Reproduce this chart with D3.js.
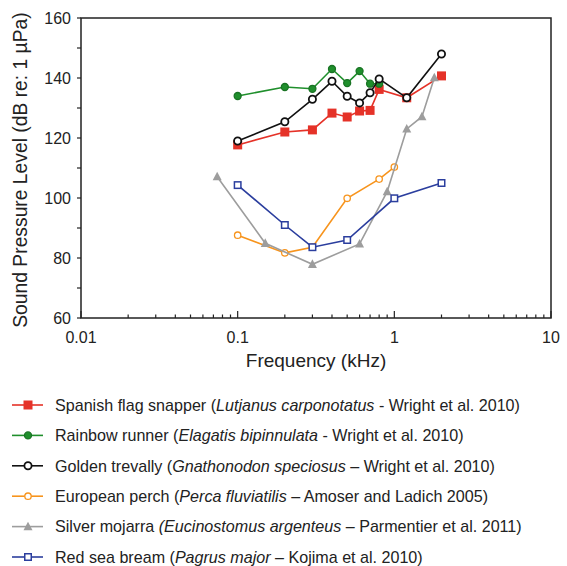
<!DOCTYPE html>
<html>
<head>
<meta charset="utf-8">
<script src="https://d3js.org/d3.v7.min.js"></script>
<style>
  body { margin: 0; background: #fff; }
  svg text { font-family: "Liberation Sans", Arial, sans-serif; fill: #222; }
</style>
</head>
<body>
<svg id="chart" width="567" height="566"></svg>
<script>
// hearing thresholds, frequency in kHz, level in dB re 1 uPa
var snapperFreq = [0.1, 0.2, 0.3, 0.4, 0.5, 0.6, 0.7, 0.8, 1.2, 2];
var snapperDb   = [117.7, 122, 122.7, 128.3, 127, 129, 129.2, 136.2, 133.4, 140.7];

var runnerFreq = [0.1, 0.2, 0.3, 0.4, 0.5, 0.6, 0.7, 0.8];
var runnerDb   = [134, 137, 136.4, 143, 138.3, 142.3, 138.1, 138.1];

var trevallyFreq = [0.1, 0.2, 0.3, 0.4, 0.5, 0.6, 0.7, 0.8, 1.2, 2];
var trevallyDb   = [119, 125.4, 132.9, 138.9, 133.9, 131.7, 135.1, 139.7, 133.4, 148];

var perchFreq = [0.1, 0.2, 0.3, 0.5, 0.8, 1];
var perchDb   = [87.6, 81.7, 83.6, 99.9, 106.3, 110.3];

var mojarraFreq = [0.074, 0.15, 0.3, 0.6, 0.9, 1.2, 1.5, 1.8];
var mojarraDb   = [107.1, 84.9, 77.9, 84.7, 102.1, 123, 127.1, 140.1];

var breamFreq = [0.1, 0.2, 0.3, 0.5, 1, 2];
var breamDb   = [104.3, 91, 83.6, 86, 99.9, 105];

var xTicks = [0.01, 0.1, 1, 10];
var xTickLabels = ["0.01", "0.1", "1", "10"];
var yTicks = [60, 80, 100, 120, 140, 160];

var series = [
  { freq: snapperFreq, db: snapperDb, color: "#e53228", marker: "square", filled: true,
    name: "Spanish flag snapper (", latin: "Lutjanus carponotatus", rest: " - Wright et al. 2010)" },
  { freq: runnerFreq, db: runnerDb, color: "#1f8f2c", marker: "circle", filled: true,
    name: "Rainbow runner (", latin: "Elagatis bipinnulata", rest: " - Wright et al. 2010)" },
  { freq: trevallyFreq, db: trevallyDb, color: "#111111", marker: "circle", filled: false,
    name: "Golden trevally (", latin: "Gnathonodon speciosus", rest: " \u2013 Wright et al. 2010)" },
  { freq: perchFreq, db: perchDb, color: "#f7941d", marker: "circle", filled: false,
    name: "European perch (", latin: "Perca fluviatilis", rest: " \u2013 Amoser and Ladich 2005)" },
  { freq: mojarraFreq, db: mojarraDb, color: "#9d9d9d", marker: "triangle", filled: true,
    name: "Silver mojarra ", latin: "(Eucinostomus argenteus", rest: " \u2013 Parmentier et al. 2011)" },
  { freq: breamFreq, db: breamDb, color: "#2b3e9e", marker: "square", filled: false,
    name: "Red sea bream (", latin: "Pagrus major", rest: " \u2013 Kojima et al. 2010)" }
];

var svg = d3.select("#chart");
var plotLeft = 81, plotRight = 551, plotTop = 18, plotBottom = 318;

var x = d3.scaleLog().domain([0.01, 10]).range([plotLeft, plotRight]);
var y = d3.scaleLinear().domain([60, 160]).range([plotBottom, plotTop]);

// frame
svg.append("rect")
  .attr("x", plotLeft).attr("y", plotTop)
  .attr("width", plotRight - plotLeft).attr("height", plotBottom - plotTop)
  .attr("fill", "none").attr("stroke", "#222").attr("stroke-width", 1.5);

// x ticks point inward
var minorX = [];
[0.01, 0.1, 1].forEach(function(d) {
  for (var k = 2; k <= 9; k++) minorX.push(d * k);
});
svg.selectAll(".xminor").data(minorX).enter().append("line")
  .attr("x1", function(d) { return x(d); }).attr("x2", function(d) { return x(d); })
  .attr("y1", plotBottom).attr("y2", plotBottom - 3.5)
  .attr("stroke", "#222").attr("stroke-width", 1.2);
svg.selectAll(".xmajor").data(xTicks).enter().append("line")
  .attr("x1", function(d) { return x(d); }).attr("x2", function(d) { return x(d); })
  .attr("y1", plotBottom).attr("y2", plotBottom - 7)
  .attr("stroke", "#222").attr("stroke-width", 1.2);
svg.selectAll(".xlab").data(xTicks).enter().append("text")
  .attr("x", function(d) { return x(d); }).attr("y", plotBottom + 25)
  .attr("text-anchor", "middle").attr("font-size", 16)
  .text(function(d, i) { return xTickLabels[i]; });

// y ticks point outward
var yMinor = d3.range(70, 160, 20);
svg.selectAll(".yminor").data(yMinor).enter().append("line")
  .attr("x1", plotLeft - 4).attr("x2", plotLeft)
  .attr("y1", function(d) { return y(d); }).attr("y2", function(d) { return y(d); })
  .attr("stroke", "#222").attr("stroke-width", 1.2);
svg.selectAll(".ymajor").data(yTicks).enter().append("line")
  .attr("x1", plotLeft - 4).attr("x2", plotLeft)
  .attr("y1", function(d) { return y(d); }).attr("y2", function(d) { return y(d); })
  .attr("stroke", "#222").attr("stroke-width", 1.2);
svg.selectAll(".ylab").data(yTicks).enter().append("text")
  .attr("x", plotLeft - 10).attr("y", function(d) { return y(d) + 5.5; })
  .attr("text-anchor", "end").attr("font-size", 16)
  .text(function(d) { return d; });

svg.append("text")
  .attr("x", 316).attr("y", 367)
  .attr("text-anchor", "middle").attr("font-size", 19)
  .text("Frequency (kHz)");

svg.append("text")
  .attr("transform", "translate(27,170) rotate(-90)")
  .attr("text-anchor", "middle").attr("font-size", 19.3)
  .text("Sound Pressure Level (dB re: 1 \u00b5Pa)");

function drawMarker(g, type, filled, color, cx, cy) {
  var fill = filled ? color : "#fff";
  var stroke = color;
  if (filled && type === "circle") stroke = d3.color(color).darker(0.6);
  if (type === "square") {
    var s = filled ? 9 : 6.5;
    g.append("rect").attr("x", cx - s / 2).attr("y", cy - s / 2)
      .attr("width", s).attr("height", s)
      .attr("fill", fill).attr("stroke", filled ? "none" : stroke).attr("stroke-width", 1.5);
  } else if (type === "circle") {
    var black = color === "#111111";
    g.append("circle").attr("cx", cx).attr("cy", cy)
      .attr("r", black ? 3.6 : (filled ? 3.5 : 3.2))
      .attr("fill", fill).attr("stroke", stroke)
      .attr("stroke-width", black ? 1.8 : 1.3);
  } else {
    var h = 9;
    g.append("path")
      .attr("d", "M" + cx + "," + (cy - h * 0.55) + "L" + (cx + h * 0.5) + "," + (cy + h * 0.4) +
        "L" + (cx - h * 0.5) + "," + (cy + h * 0.4) + "Z")
      .attr("fill", fill);
  }
}

var line = d3.line()
  .x(function(d) { return x(d[0]); })
  .y(function(d) { return y(d[1]); });

series.forEach(function(s) {
  var pts = s.freq.map(function(f, i) { return [f, s.db[i]]; });
  var g = svg.append("g");
  g.append("path").datum(pts).attr("d", line)
    .attr("fill", "none").attr("stroke", s.color).attr("stroke-width", 1.6);
  pts.forEach(function(p) { drawMarker(g, s.marker, s.filled, s.color, x(p[0]), y(p[1])); });
});

// legend
var legY0 = 405, legStep = 30.4;
series.forEach(function(s, i) {
  var ly = legY0 + i * legStep;
  var g = svg.append("g");
  g.append("line").attr("x1", 12).attr("x2", 43).attr("y1", ly).attr("y2", ly)
    .attr("stroke", s.color).attr("stroke-width", 1.6);
  drawMarker(g, s.marker, s.filled, s.color, 28, ly);
  var t = g.append("text").attr("x", 55).attr("y", ly + 5.8).attr("font-size", 16.1);
  t.append("tspan").text(s.name);
  t.append("tspan").attr("font-style", "italic").text(s.latin);
  t.append("tspan").text(s.rest);
});
</script>
</body>
</html>
